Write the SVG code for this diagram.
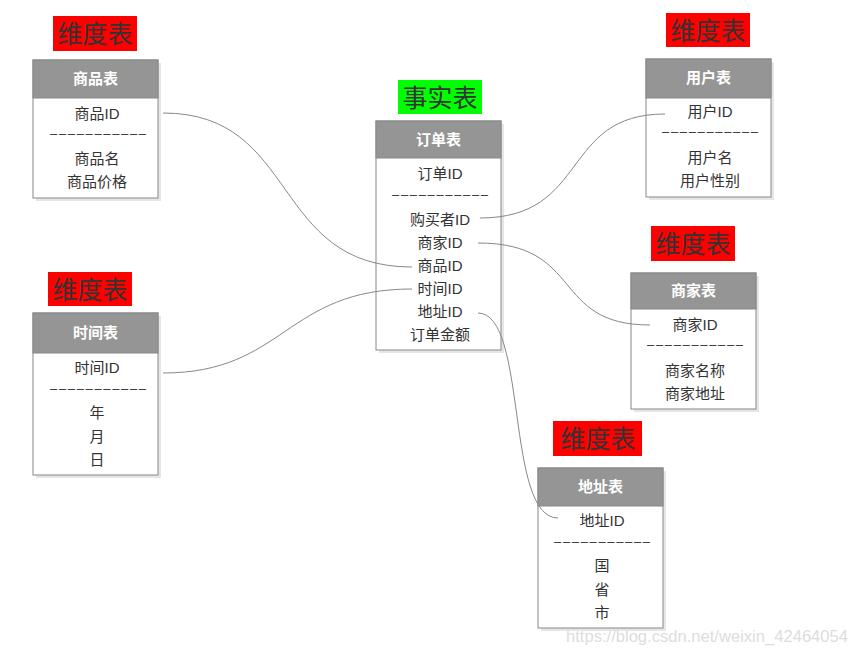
<svg xmlns="http://www.w3.org/2000/svg" width="857" height="655" viewBox="0 0 857 655">
<style>
.lab{font-family:"Noto Sans CJK SC","Liberation Serif",serif;font-size:25px;fill:#333;text-anchor:middle}
.box{fill:#fff;stroke:#888;stroke-width:1}
.sh{fill:#e6e6e6}
.hd{fill:#959595;stroke:#888;stroke-width:1}
.ht{font-family:"Liberation Sans","Noto Sans CJK SC",sans-serif;font-size:15px;font-weight:bold;fill:#fff;text-anchor:middle}
.t{font-family:"Liberation Sans","Noto Sans CJK SC",sans-serif;font-size:15px;fill:#333;text-anchor:middle}
.d{font-family:"Liberation Sans",sans-serif;font-size:13px;fill:#333;text-anchor:middle}
.conn path{fill:none;stroke:#888;stroke-width:1}
.wm{font-family:"Liberation Sans",sans-serif;font-size:16px;fill:#ddd}
</style>
<rect width="857" height="655" fill="#fff"/>

<g id="lab-goods"><rect x="53" y="16" width="84" height="35" fill="#f00"/><text class="lab" x="95" y="43">维度表</text></g>
<g id="goods">
<rect class="sh" x="36" y="63" width="125" height="138"/>
<rect class="box" x="33" y="60" width="125" height="138"/>
<rect class="hd" x="33" y="60" width="125" height="38"/>
<text class="ht" x="95.5" y="84">商品表</text>
<text class="t" x="97" y="119">商品ID</text>
<text class="d" x="98" y="138" textLength="96" lengthAdjust="spacing">–––––––––––</text>
<text class="t" x="97" y="164">商品名</text>
<text class="t" x="97" y="187">商品价格</text>
</g>

<g id="lab-fact"><rect x="398" y="80" width="84" height="34" fill="#0f0"/><text class="lab" x="440" y="107">事实表</text></g>
<g id="order">
<rect class="sh" x="379" y="124" width="125" height="229"/>
<rect class="box" x="376" y="121" width="125" height="229"/>
<rect class="hd" x="376" y="121" width="125" height="37"/>
<text class="ht" x="438.5" y="145">订单表</text>
<text class="t" x="440" y="179">订单ID</text>
<text class="d" x="440" y="199" textLength="96" lengthAdjust="spacing">–––––––––––</text>
<text class="t" x="440" y="225">购买者ID</text>
<text class="t" x="440" y="248">商家ID</text>
<text class="t" x="440" y="271">商品ID</text>
<text class="t" x="440" y="294">时间ID</text>
<text class="t" x="440" y="317">地址ID</text>
<text class="t" x="440" y="340">订单金额</text>
</g>

<g id="lab-user"><rect x="666" y="13" width="84" height="34" fill="#f00"/><text class="lab" x="708" y="40">维度表</text></g>
<g id="user">
<rect class="sh" x="649" y="62" width="125" height="138"/>
<rect class="box" x="646" y="59" width="125" height="138"/>
<rect class="hd" x="646" y="59" width="125" height="39"/>
<text class="ht" x="708.5" y="83">用户表</text>
<text class="t" x="710" y="117">用户ID</text>
<text class="d" x="710" y="136" textLength="96" lengthAdjust="spacing">–––––––––––</text>
<text class="t" x="710" y="163">用户名</text>
<text class="t" x="710" y="186">用户性别</text>
</g>

<g id="lab-time"><rect x="48" y="272" width="84" height="34" fill="#f00"/><text class="lab" x="90" y="299">维度表</text></g>
<g id="time">
<rect class="sh" x="36" y="316" width="125" height="162"/>
<rect class="box" x="33" y="313" width="125" height="162"/>
<rect class="hd" x="33" y="313" width="125" height="40"/>
<text class="ht" x="95.5" y="338">时间表</text>
<text class="t" x="97" y="373">时间ID</text>
<text class="d" x="98" y="393" textLength="96" lengthAdjust="spacing">–––––––––––</text>
<text class="t" x="97" y="418">年</text>
<text class="t" x="97" y="442">月</text>
<text class="t" x="97" y="465">日</text>
</g>

<g id="lab-shop"><rect x="651" y="226" width="84" height="35" fill="#f00"/><text class="lab" x="693" y="253">维度表</text></g>
<g id="shop">
<rect class="sh" x="634" y="276" width="125" height="136"/>
<rect class="box" x="631" y="273" width="125" height="136"/>
<rect class="hd" x="631" y="273" width="125" height="36"/>
<text class="ht" x="693.5" y="296">商家表</text>
<text class="t" x="695" y="330">商家ID</text>
<text class="d" x="695" y="349" textLength="96" lengthAdjust="spacing">–––––––––––</text>
<text class="t" x="695" y="376">商家名称</text>
<text class="t" x="695" y="399">商家地址</text>
</g>

<g id="lab-addr"><rect x="553" y="421" width="89" height="35" fill="#f00"/><text class="lab" x="598" y="448">维度表</text></g>
<g id="addr">
<rect class="sh" x="541" y="471" width="125" height="160"/>
<rect class="box" x="538" y="468" width="125" height="160"/>
<rect class="hd" x="538" y="468" width="125" height="38"/>
<text class="ht" x="600.5" y="492">地址表</text>
<text class="t" x="602" y="526">地址ID</text>
<text class="d" x="602" y="546" textLength="96" lengthAdjust="spacing">–––––––––––</text>
<text class="t" x="602" y="571">国</text>
<text class="t" x="602" y="595">省</text>
<text class="t" x="602" y="618">市</text>
</g>

<g id="conn" class="conn">
<path d="M163,113 C300,113 270,267 412,267"/>
<path d="M163,373 C285,373 285,289 412,289"/>
<path d="M480,218 C590,218 560,114 665,114"/>
<path d="M478,243 C585,243 550,325 650,325"/>
<path d="M478,313 C528,313 505,518 558,518"/>
</g>

<text class="wm" x="566" y="642" textLength="282" lengthAdjust="spacingAndGlyphs">https://blog.csdn.net/weixin_42464054</text>
</svg>
